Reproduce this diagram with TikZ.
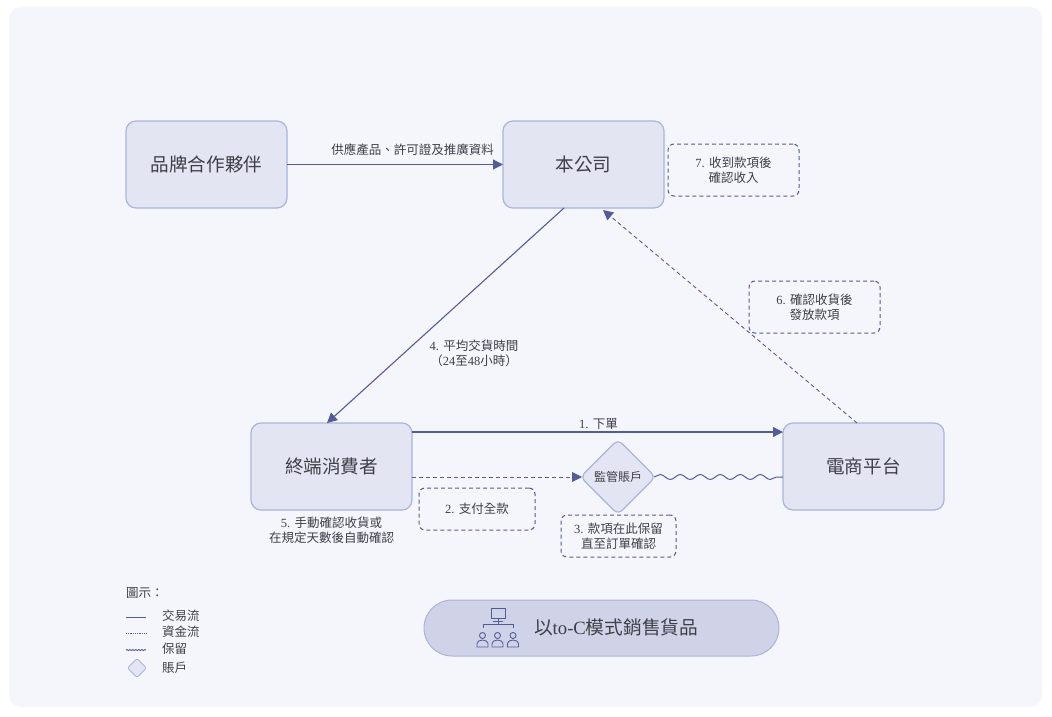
\documentclass[tikz,border=0pt]{standalone}
\usepackage{xcolor}
\usepackage{fontspec}
\usepackage{tikz}
\usetikzlibrary{arrows.meta, positioning, shapes.geometric, decorations.pathmorphing}
\setmainfont{Noto Sans CJK TC}
\newfontfamily\latn{Liberation Serif}
\definecolor{pagebg}{HTML}{F4F6FB}
\definecolor{boxfill}{HTML}{E3E5F3}
\definecolor{boxline}{HTML}{AAB4DC}
\definecolor{pillfill}{HTML}{D0D3E8}
\definecolor{flowline}{HTML}{535C99}
\definecolor{inktext}{HTML}{3F3F48}

\begin{document}
\begin{tikzpicture}[
        x=1pt, y=-1pt,
        node distance=4pt,
        every node/.style={text=inktext, font=\fontsize{12.5}{15}\selectfont, align=center, outer sep=0pt},
        block/.style={rectangle, draw=boxline, fill=boxfill, line width=1.2pt, rounded corners=10pt, minimum width=161pt, minimum height=87pt, font=\fontsize{18.6}{22}\selectfont},
        account/.style={diamond, draw=boxline, fill=boxfill, line width=1.2pt, rounded corners=6pt, aspect=1, inner sep=0pt},
        note/.style={rectangle, draw=flowline, dash pattern=on 4pt off 3pt, line width=1pt, rounded corners=6pt, minimum width=131pt, minimum height=52pt},
        caption/.style={inner sep=0pt},
        goods/.style={arrow, line width=1.1pt},
        arrow/.style={-{Triangle[length=10pt, width=10pt]}, flowline},
        cash/.style={arrow, dash pattern=on 4pt off 3pt, line width=0.9pt},
        hold/.style={flowline, line width=1pt, decorate, decoration={snake, segment length=20pt, amplitude=2.5pt}}
    ]
        \useasboundingbox (0,0) rectangle (1052,717);
        \fill[white] (0,0) rectangle (1052,717);
        \fill[pagebg, rounded corners=12pt] (9,7) rectangle (1042,707);

        % main parties
        \node[block] (brand) at (206.5,164.5) {品牌合作夥伴};
        \node[block, right=216pt of brand] (company) {本公司};
        \node[block] (consumer) at (331.5,466.5) {終端消費者};
        \node[block, right=371pt of consumer] (platform) {電商平台};
        \node[account, minimum size=75pt, font=\fontsize{12}{14}\selectfont] (escrow) at (618,477) {監管賬戶};

        % notes
        \node[note, right=of company, yshift=-5.5pt] (receipt) {{\latn 7. }收到款項後\\確認收入};
        \node[note] (release) at (814.5,307) {{\latn 6. }確認收貨後\\發放款項};
        \node[note, minimum width=116pt, minimum height=42pt] (payment) at (477,509) {{\latn 2. }支付全款};
        \node[note, minimum width=115pt, minimum height=42pt] (holding) at (618.5,536) {{\latn 3. }款項在此保留\\直至訂單確認};

        % connector labels
        \node[caption] (supply) at (412.5,150) {供應產品、許可證及推廣資料};
        \node[caption] (order) at (598.5,423.5) {{\latn 1. }下單};
        \node[caption] (delivery) at (474,353.5) {{\latn 4. }平均交貨時間\\（{\latn 24}至{\latn 48}小時）};
        \node[caption] (confirm) at (331.5,530.5) {{\latn 5. }手動確認收貨或\\在規定天數後自動確認};

        \draw[goods] (brand) -- (company);
        \draw[goods] ([xshift=-19.5pt]company.south) -- ([xshift=-4.5pt]consumer.north);
        \draw[goods] ([yshift=34.5pt]consumer.east) -- ([yshift=34.5pt]platform.west);
        \draw[cash] ([yshift=-10.5pt]consumer.east) -- ([xshift=1.5pt]escrow.west);
        \draw[hold] ([xshift=-1.5pt]escrow.east) -- ([yshift=-10.5pt]platform.west);
        \draw[cash] ([xshift=-6.5pt]platform.north) -- ([xshift=19.5pt, yshift=-2pt]company.south);

        % business model banner
        \node[rectangle, draw=boxline, fill=pillfill, line width=1pt, rounded corners=28pt, minimum width=355pt, minimum height=56pt] (model) at (601.5,628) {};
        \node[anchor=west, inner sep=0pt, font=\fontsize{18.7}{22}\selectfont] (modeltext) at (534,627) {以{\latn to-C}模式銷售貨品};
        \begin{scope}[flowline, line width=0.9pt]
            \draw (491,608) rectangle (505,618);
            \draw (498,618) -- (498,624);
            \draw (493,621) -- (503,621);
            \draw (483,628) -- (483,624.5) -- (513,624.5) -- (513,628);
            \foreach \i in {482.5,497.5,513} {
                \draw (\i,635.5) circle (3pt);
                \draw (\i-5.5,647) -- (\i-5.5,643.5) arc[start angle=180, end angle=0, x radius=5.5pt, y radius=3.5pt] -- (\i+5.5,647) -- cycle;
            }
        \end{scope}

        % legend
        \node[anchor=west, inner sep=0pt] (legendtitle) at (126,593) {圖示：};
        \coordinate (tradea) at (126,617);
        \coordinate (tradeb) at (146,617);
        \coordinate (casha) at (126,633);
        \coordinate (cashb) at (146,633);
        \coordinate (holda) at (126,650);
        \coordinate (holdb) at (146,650);
        \draw[flowline, line width=1pt] (tradea) -- (tradeb);
        \draw[flowline, line width=0.8pt, densely dotted] (casha) -- (cashb);
        \draw[flowline, line width=0.9pt, decorate, decoration={snake, segment length=3pt, amplitude=0.5pt}] (holda) -- (holdb);
        \node[account, minimum size=19pt, rounded corners=2pt, line width=0.8pt] (legendmark) at (137,668) {};
        \node[anchor=west, inner sep=0pt] (legendtrade) at (162,615.5) {交易流};
        \node[anchor=west, inner sep=0pt] (legendcash) at (162,632) {資金流};
        \node[anchor=west, inner sep=0pt] (legendhold) at (162,649) {保留};
        \node[anchor=west, inner sep=0pt] (legendaccount) at (162,667.5) {賬戶};
    \end{tikzpicture}
\end{document}
